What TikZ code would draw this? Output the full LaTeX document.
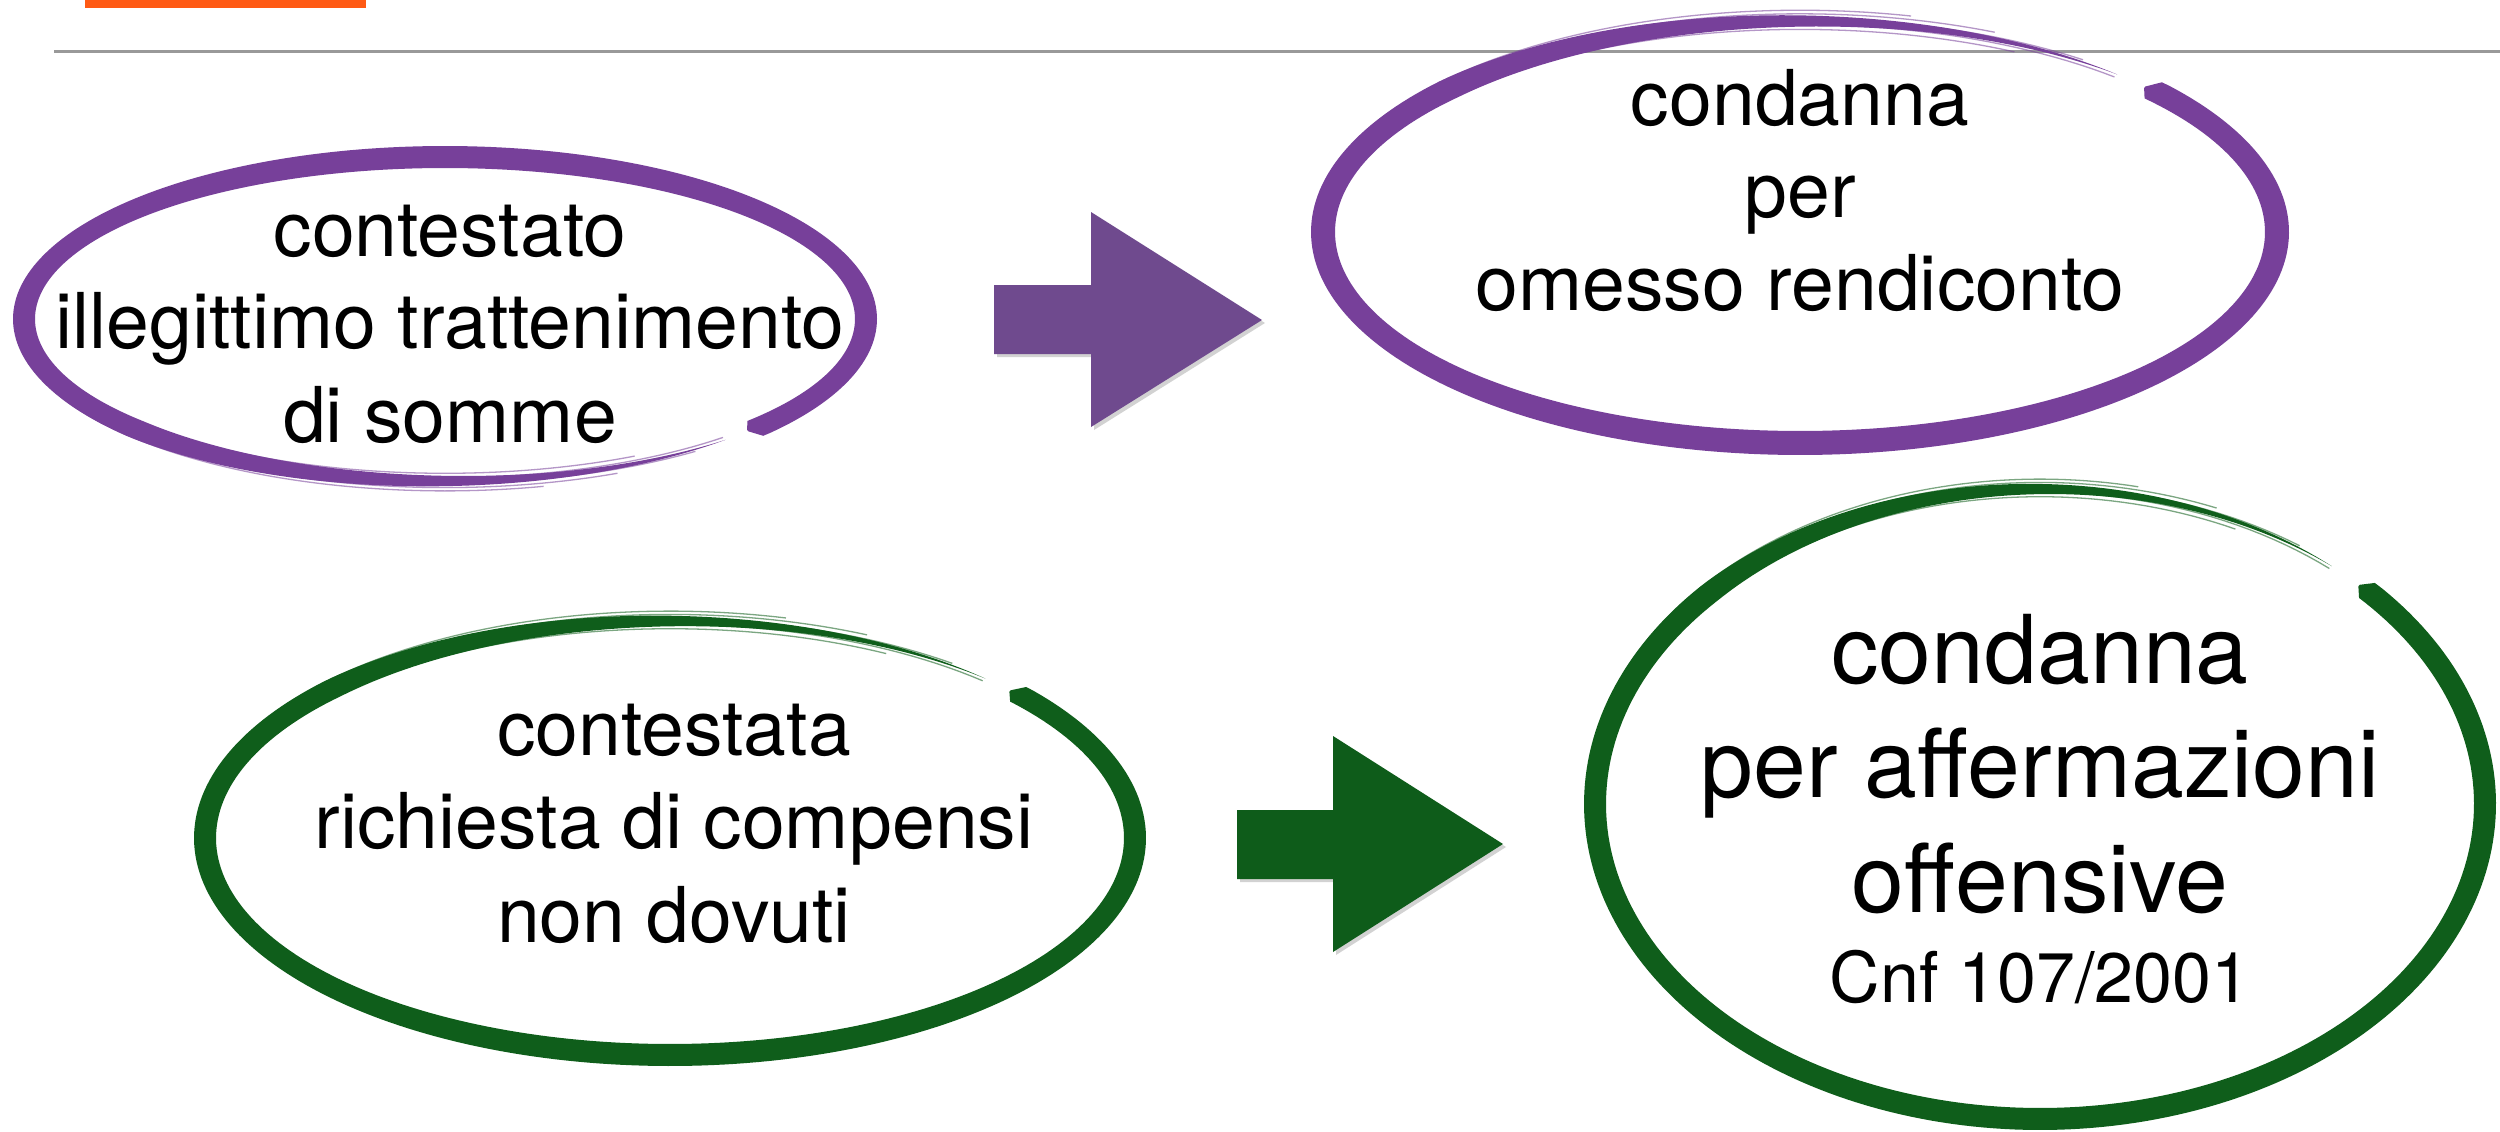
\documentclass[tikz,border=0pt]{standalone}
\usepackage{fontspec}
\setmainfont{TeX Gyre Heros}
\usetikzlibrary{shadows}
\definecolor{brushpurple}{HTML}{77409A}
\definecolor{brushgreen}{HTML}{0F5E1B}
\definecolor{arrowpurple}{HTML}{6F4A8E}
\definecolor{arrowgreen}{HTML}{0E5C1A}
\definecolor{rulegrey}{HTML}{999999}
\definecolor{logoorange}{HTML}{FF5A14}
\newcommand\brushellipse[9]{%
  % #1 color, #2 cx, #3 cy, #4 a, #5 b, #6 theta start, #7 theta end, #8 half width, #9 name
  \begin{scope}[declare function={th(\s)=#6+\s*(#7-#6);
      hw(\s)=#8*min(1,(1-\s)/0.25)*min(1,sqrt(\s/0.004));}]
    \fill[#1] plot[domain=0:1, samples=260, variable=\s]
      ({#2+(#4+hw(\s))*cos(th(\s))},{#3+(#5+hw(\s))*sin(th(\s))})
      -- plot[domain=0:1, samples=260, variable=\s]
      ({#2+(#4-hw(1-\s))*cos(th(1-\s))},{#3+(#5-hw(1-\s))*sin(th(1-\s))}) -- cycle;
    \foreach \o/\e in {-0.7/0.96,-0.3/1.0,0.2/0.985,0.6/0.95,0.9/0.92}{
      \draw[#1, line width=1.3pt, opacity=0.55] plot[domain=0.7:\e, samples=60, variable=\s]
        ({#2+(#4+\o*#8)*cos(th(\s))},{#3+(#5+\o*#8)*sin(th(\s))});
    }
    \coordinate (#9) at (#2,#3);
  \end{scope}}
\newcommand\lbl{\fontsize{77}{92}\selectfont}
\newcommand\biglbl{\fontsize{95}{114}\selectfont}
\newcommand\smalllbl{\fontsize{70}{84}\selectfont}
\begin{document}
\begin{tikzpicture}[x=1pt,y=-1pt,
  txt/.style={anchor=base, inner sep=0pt, text=black},
  blockarrow/.style={drop shadow={opacity=0.35, shadow xshift=3pt, shadow yshift=-3pt}}]
\useasboundingbox (0,0) rectangle (2500,1132);
\fill[white] (0,0) rectangle (2500,1132);
% header
\fill[logoorange] (85,0) rectangle (366,8);
\draw[rulegrey, line width=3pt] (54,52) -- (2500,52);
% brush ellipses
\brushellipse{brushpurple}{445}{319}{421}{162}{43.9}{-311.8}{11}{e1}
\brushellipse{brushpurple}{1800}{232}{477}{211}{-43.6}{311.7}{12}{e2}
\brushellipse{brushgreen}{670}{838}{465}{217}{-42.9}{312.7}{11}{e3}
\brushellipse{brushgreen}{2040}{804}{445}{315}{-44.1}{311}{11}{e4}
% block arrows
\fill[arrowpurple, blockarrow] (994,285) -- (1091,285) -- (1091,212) -- (1262,320)
  -- (1091,427) -- (1091,354) -- (994,354) -- cycle;
\fill[arrowgreen, blockarrow] (1237,810) -- (1333,810) -- (1333,736) -- (1503,844)
  -- (1333,952) -- (1333,879) -- (1237,879) -- cycle;
% texts
\node[txt, font=\lbl] (t1a) at (450,256) {contestato};
\node[txt, font=\lbl] (t1b) at (450,348) {illegittimo trattenimento};
\node[txt, font=\lbl] (t1c) at (450,442) {di somme};
\node[txt, font=\lbl] (t2a) at (1800,125) {condanna};
\node[txt, font=\lbl] (t2b) at (1800,217) {per};
\node[txt, font=\lbl] (t2c) at (1800,310) {omesso rendiconto};
\node[txt, font=\lbl] (t3a) at (674,755) {contestata};
\node[txt, font=\lbl] (t3b) at (674,848) {richiesta di compensi};
\node[txt, font=\lbl] (t3c) at (674,942) {non dovuti};
\node[txt, font=\biglbl] (t4a) at (2040,683) {condanna};
\node[txt, font=\biglbl] (t4b) at (2040,797) {per affermazioni};
\node[txt, font=\biglbl] (t4c) at (2040,912) {offensive};
\node[txt, font=\smalllbl] (t4d) at (2040,1002) {Cnf 107/2001};
\end{tikzpicture}
\end{document}
